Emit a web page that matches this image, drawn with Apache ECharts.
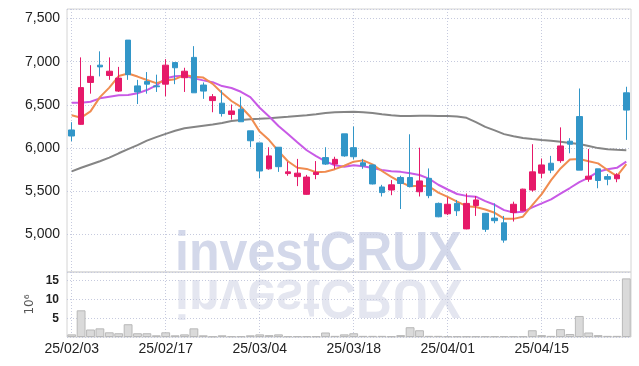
<!DOCTYPE html>
<html><head><meta charset="utf-8">
<script src="https://cdn.jsdelivr.net/npm/echarts@6/dist/echarts.min.js"></script>
<style>html,body{margin:0;padding:0;background:#fff}#c{width:639px;height:366px}</style>
</head><body><div id="c"></div>
<script>
const dates = ['25/02/03','25/02/04','25/02/05','25/02/06','25/02/07','25/02/10','25/02/11','25/02/12','25/02/13','25/02/14',
'25/02/17','25/02/18','25/02/19','25/02/20','25/02/21','25/02/24','25/02/25','25/02/26','25/02/27','25/02/28',
'25/03/04','25/03/05','25/03/06','25/03/07','25/03/10','25/03/11','25/03/12','25/03/13','25/03/14','25/03/17',
'25/03/18','25/03/19','25/03/20','25/03/21','25/03/24','25/03/25','25/03/26','25/03/27','25/03/28','25/03/31',
'25/04/01','25/04/02','25/04/03','25/04/04','25/04/07','25/04/08','25/04/09','25/04/10','25/04/11','25/04/14',
'25/04/15','25/04/16','25/04/17','25/04/18','25/04/21','25/04/22','25/04/23','25/04/24','25/04/25','25/04/28'];
const labelDates = ['25/02/03','25/02/17','25/03/04','25/03/18','25/04/01','25/04/15'];
const opens  = [6210,6275,6760,6960,6840,6660,7250,6720,6770,6720, 6740,6990,6815,7050,6730,6550,6520,6390,6450,6200,
                6060,5760,6010,5705,5670,5465,5695,5890,5815,6165, 6005,5830,5805,5550,5515,5660,5660,5495,5650,5360,
                5240,5360,5065,5335,5245,5190,5135,5255,5275,5515, 5710,5825,5855,6080,6365,5640,5760,5670,5645,6640];
const closes = [6140,6700,6830,6940,6890,6810,6850,6650,6740,6710, 6960,6930,6890,6640,6660,6595,6400,6430,6305,6085,
                5735,5910,5785,5725,5710,5665,5720,5815,5870,5910, 5900,5795,5585,5485,5575,5590,5555,5620,5450,5205,
                5350,5275,5360,5400,5060,5160,4935,5350,5525,5725, 5805,5745,6025,6045,5745,5675,5625,5640,5690,6440];
const lows   = [6080,6270,6630,6830,6790,6650,6790,6510,6630,6650, 6600,6740,6650,6640,6570,6415,6365,6330,6305,6010,
                5650,5750,5725,5680,5560,5460,5640,5805,5760,5900, 5870,5760,5580,5440,5455,5295,5545,5440,5420,5200,
                5225,5215,5060,5215,5030,5130,4905,5150,5270,5495, 5650,5710,5830,5940,5745,5610,5535,5570,5605,6095];
const highs  = [6300,7050,6960,7120,7050,6940,7250,6790,6880,6850, 7030,6990,6930,7180,6760,6625,6670,6505,6595,6200,
                6060,6010,6010,5840,5875,5690,5850,6010,5900,6165, 6250,5875,5810,5575,5630,5680,6160,6005,5765,5370,
                5430,5400,5475,5445,5250,5360,5215,5380,5530,6045, 5880,5910,6240,6115,6690,5990,5760,5700,5710,6710];
const volumes = [0.7,7.1,2.0,2.3,1.25,1.0,3.4,1.0,1.0,0.45, 1.25,0.45,0.7,2.3,0.45,0.15,0.45,0.2,0.2,0.45,
                 0.7,0.5,0.7,0.2,0.2,0.2,0.2,1.2,0.3,0.7, 1.0,0.3,0.3,0.3,0.2,0.5,2.6,1.8,0.3,0.3,
                 0.2,0.2,0.2,0.2,0.2,0.2,0.2,0.2,0.2,1.8, 0.5,0.3,2.1,0.8,5.6,1.2,0.5,0.3,0.3,15.6];
const ma5  = [6380,6352,6425,6590,6700,6834,6864,6828,6788,6752, 6782,6798,6846,6826,6816,6743,6637,6545,6478,6363,
              6191,6093,5964,5848,5773,5759,5721,5727,5756,5796, 5843,5858,5812,5735,5668,5606,5558,5565,5558,5484,
              5436,5380,5328,5318,5289,5251,5183,5181,5206,5339, 5468,5630,5765,5869,5873,5847,5823,5746,5675,5814];
const ma10 = [6526,6526,6537,6576,6595,6611,6615,6634,6672,6726, 6808,6831,6837,6807,6784,6763,6718,6696,6652,6590,
              6467,6365,6255,6163,6068,5975,5907,5846,5802,5785, 5801,5790,5770,5746,5732,5725,5708,5689,5647,5576,
              5521,5469,5447,5438,5387,5344,5282,5255,5262,5314, 5360,5407,5473,5538,5606,5658,5727,5756,5772,5844];
const ma60 = [5730,5772,5810,5848,5890,5940,5988,6035,6086,6127, 6165,6200,6230,6245,6260,6273,6290,6313,6325,6335,
              6340,6346,6355,6363,6372,6380,6392,6405,6414,6419, 6421,6415,6405,6392,6380,6372,6372,6375,6374,6372,
              6371,6365,6350,6300,6245,6205,6162,6138,6118,6105, 6094,6085,6073,6060,6047,6025,6000,5988,5980,5975];

const FONT = "'Liberation Sans','Arial',sans-serif";
const showIdx = (i, v) => labelDates.indexOf(v !== undefined ? v : dates[i]) >= 0;
const dotted = {show: true, alignWithLabel: true, interval: showIdx, lineStyle: {color: '#c6cade', type: [1, 2], width: 1}};
const hDotted = {show: true, lineStyle: {color: '#c6cade', type: [1, 2], width: 1}};
const wmStyle = {text: 'investCRUX', x: 0, y: -19.4, align: 'left', verticalAlign: 'middle',
  fontSize: 56, fontWeight: 'bold', fontFamily: "'Liberation Sans',sans-serif"};

const chart = echarts.init(document.getElementById('c'), null, {renderer: 'canvas'});
chart.setOption({
  animation: false,
  backgroundColor: '#fff',
  graphic: [
    {type: 'text', z: -10, silent: true, x: 175, y: 274, scaleX: 0.895,
     style: Object.assign({}, wmStyle, {fill: '#d3d8ea'})},
    {type: 'text', z: -10, silent: true, x: 175, y: 276, scaleX: 0.895, scaleY: -1,
     style: Object.assign({}, wmStyle, {fill: '#e4e6f0'})}
  ],
  grid: [
    {left: 67, right: 8, top: 9, height: 263, show: true, borderColor: '#d4d4d4', borderWidth: 1},
    {left: 67, right: 8, top: 272, height: 65, show: true, borderColor: '#d4d4d4', borderWidth: 1}
  ],
  xAxis: [
    {type: 'category', gridIndex: 0, data: dates, boundaryGap: true,
     axisLine: {show: false}, axisTick: {show: false}, axisLabel: {show: false}, splitLine: dotted},
    {type: 'category', gridIndex: 1, data: dates, boundaryGap: true,
     axisLine: {show: false}, axisTick: {show: false},
     axisLabel: {show: true, interval: showIdx, margin: 5, fontSize: 14, fontFamily: FONT, color: '#222'},
     splitLine: dotted}
  ],
  yAxis: [
    {type: 'value', gridIndex: 0, min: 4566, max: 7610, splitNumber: 6, minInterval: 500, maxInterval: 500,
     axisLine: {show: false}, axisTick: {show: false},
     axisLabel: {margin: 7, fontSize: 14, fontFamily: FONT, color: '#222', showMinLabel: false, showMaxLabel: false,
       formatter: v => Number(v).toLocaleString('en-US')},
     splitLine: hDotted},
    {type: 'value', gridIndex: 1, min: 0, max: 17.3, interval: 5,
     axisLine: {show: false}, axisTick: {show: false},
     axisLabel: {margin: 8, fontSize: 12, fontWeight: 'bold', fontFamily: FONT, color: '#222', showMinLabel: false, showMaxLabel: false},
     splitLine: hDotted,
     name: '10⁶', nameLocation: 'middle', nameRotate: 90, nameGap: 31, nameMoveOverlap: false,
     nameTextStyle: {fontSize: 12, fontFamily: "'DejaVu Sans',sans-serif", color: '#555'}}
  ],
  series: [
    {type: 'bar', name: 'Volume', xAxisIndex: 1, yAxisIndex: 1, data: volumes, barCategoryGap: '6%',
     itemStyle: {color: '#dadada', borderColor: '#b8b8b8', borderWidth: 1}},
    {type: 'line', name: 'MA60', data: ma60, symbol: 'none', smooth: false, z: 3,
     lineStyle: {color: '#858585', width: 2}},
    {type: 'line', name: 'MA10', data: ma10, symbol: 'none', smooth: false, z: 3,
     lineStyle: {color: '#c85ae6', width: 2}},
    {type: 'line', name: 'MA5', data: ma5, symbol: 'none', smooth: false, z: 3,
     lineStyle: {color: '#f08c50', width: 2}},
    {type: 'candlestick', name: 'Price', barWidth: 6, z: 5,
     data: dates.map((d, i) => [opens[i], closes[i], lows[i], highs[i]]),
     itemStyle: {color: '#e61969', color0: '#3296c8', borderColor: '#e61969', borderColor0: '#3296c8', borderWidth: 1}}
  ]
});
</script>
</body></html>
